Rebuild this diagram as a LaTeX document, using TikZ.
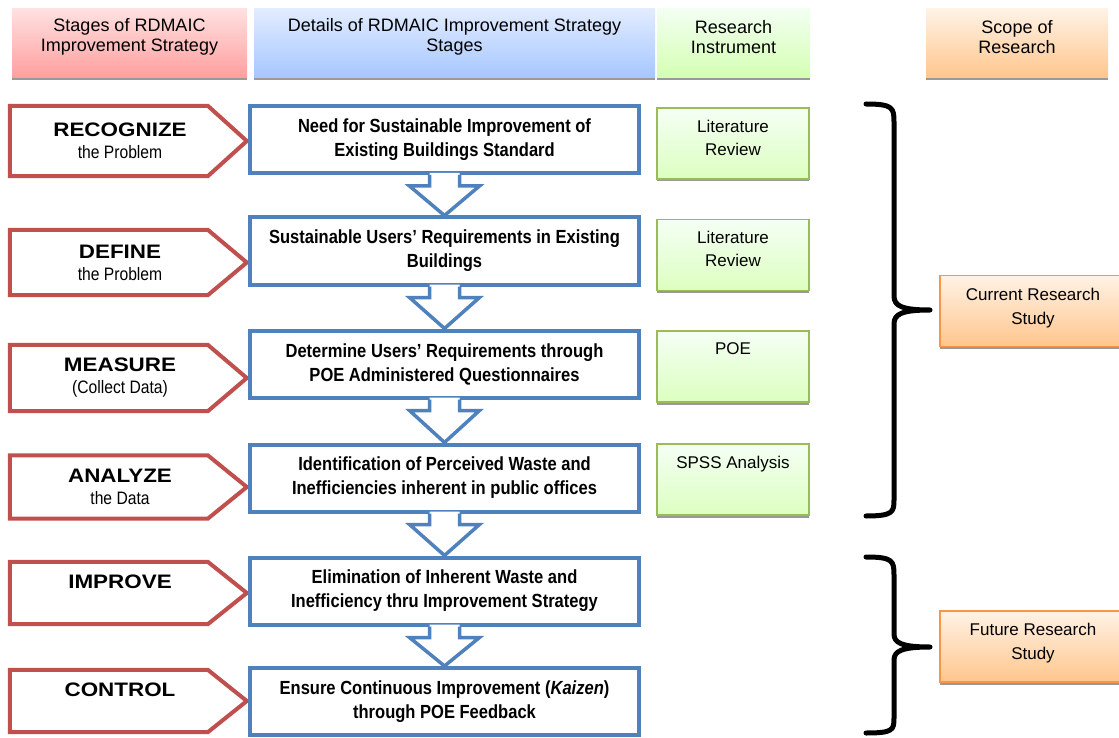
\documentclass[tikz,border=0pt]{standalone}
\usepackage{fontspec}
\setmainfont{Liberation Sans}
\newfontfamily\narrowfont[FakeStretch=0.87]{Liberation Sans}
\newfontfamily\widefont[FakeStretch=1.15]{Liberation Sans}
\usetikzlibrary{calc, shadows}

\definecolor{stagered}{HTML}{C0504D}
\definecolor{detailblue}{HTML}{4F81BD}
\definecolor{toolgreen}{HTML}{9BBB59}
\definecolor{scopeorange}{HTML}{F79646}
\definecolor{headblue top}{HTML}{E2ECFF}
\definecolor{headblue bottom}{HTML}{A6C6FF}

\newcommand{\stagename}[1]{{\widefont\bfseries\fontsize{19.5}{22}\selectfont #1}}

\begin{document}
\begin{tikzpicture}[x = 1pt, y = -1pt,
  shade under/.style = {drop shadow = {shadow xshift = 0pt, shadow yshift = -2.5pt,
                                      fill = black!40, opacity = 1}},
  header/.style   = {shade under, minimum height = 69, inner sep = 0},
  headtext/.style = {yshift = 6.5, align = center, font = \fontsize{18}{20}\selectfont},
  stage/.style    = {minimum width = 220, minimum height = 66, inner sep = 0, align = center,
                     font = \narrowfont\fontsize{18}{22}\selectfont},
  stageline/.style = {draw = stagered, line width = 4},
  detail/.style   = {draw = detailblue, line width = 4, fill = white, minimum width = 389,
                     minimum height = 67, inner sep = 0, align = center,
                     font = \narrowfont\bfseries\fontsize{19}{24}\selectfont},
  flow/.style     = {draw = detailblue, line width = 3.5},
  tool/.style     = {draw = toolgreen, line width = 1.5, top color = green!4!white,
                     bottom color = green!55!yellow!25!white, shade under,
                     minimum width = 152, minimum height = 71, inner sep = 0},
  tooltext/.style = {yshift = 6, align = center, font = \fontsize{17}{23}\selectfont},
  scope/.style    = {draw = scopeorange, line width = 1.5, top color = orange!10!white,
                     bottom color = orange!45!white, shade under,
                     minimum width = 186, minimum height = 71, inner sep = 0},
  scopetext/.style = {yshift = 3, align = center, font = \fontsize{17}{24}\selectfont},
  brace/.style    = {line width = 5, line cap = round, line join = round}]

  \useasboundingbox (0, 0) rectangle (1119, 738);

  % column headers
  \node[header, minimum width = 235, top color = red!12!white, bottom color = red!38!white,
        label = {[headtext]center:Stages of RDMAIC\\Improvement Strategy}] (h1) at (129.5, 43.5) {};
  \node[header, minimum width = 401, top color = headblue top, bottom color = headblue bottom,
        label = {[headtext]center:Details of RDMAIC Improvement Strategy\\Stages}] (h2) at (454.5, 43.5) {};
  \node[header, minimum width = 153, top color = green!5!white, bottom color = green!55!yellow!30!white,
        label = {[headtext]center:Research\\Instrument}] (h3) at (733.5, 43.5) {};
  \node[header, minimum width = 182, top color = orange!10!white, bottom color = orange!45!white,
        label = {[headtext]center:Scope of\\Research}] (h4) at (1017, 43.5) {};

  % stages
  \node[stage, minimum height = 70] (s1) at (120, 141)   {\stagename{RECOGNIZE}\\the Problem};
  \node[stage, minimum height = 65] (s2) at (120, 262.5) {\stagename{DEFINE}\\the Problem};
  \node[stage]                      (s3) at (120, 378)   {\stagename{MEASURE}\\(Collect Data)};
  \node[stage, minimum height = 63] (s4) at (120, 487)   {\stagename{ANALYZE}\\the Data};
  \node[stage, minimum height = 62] (s5) at (120, 593)   {\stagename{IMPROVE}\\\phantom{the Data}};
  \node[stage, minimum height = 62] (s6) at (120, 701)   {\stagename{CONTROL}\\\phantom{the Data}};
  \foreach \s in {s1, s2, s3, s4, s5, s6}
    \draw[stageline] (\s.north west) -- ($(\s.north west) + (198, 0)$) -- ($(\s.west) + (237, 0)$)
                  -- ($(\s.south west) + (198, 0)$) -- (\s.south west) -- cycle;

  % details
  \node[detail] (b1) at (444.5, 139.5) {Need for Sustainable Improvement of\\Existing Buildings Standard};
  \node[detail] (b2) at (444.5, 251)   {Sustainable Users’ Requirements in Existing\\Buildings};
  \node[detail] (b3) at (444.5, 364)   {Determine Users’ Requirements through\\POE Administered Questionnaires};
  \node[detail] (b4) at (444.5, 478)   {Identification of Perceived Waste and\\Inefficiencies inherent in public offices};
  \node[detail] (b5) at (444.5, 591)   {Elimination of Inherent Waste and\\Inefficiency thru Improvement Strategy};
  \node[detail] (b6) at (444.5, 701.5) {Ensure Continuous Improvement (\textit{Kaizen})\\through POE Feedback};
  \foreach \a/\b in {b1/b2, b2/b3, b3/b4, b4/b5, b5/b6} {
    \fill[white] ($(\a.south) + (-15, -2)$) -- ($(\a.south) + (-15, 11)$) -- ($(\a.south) + (-35, 11)$)
              -- (\b.north) -- ($(\a.south) + (35, 11)$) -- ($(\a.south) + (15, 11)$)
              -- ($(\a.south) + (15, -2)$) -- cycle;
    \draw[flow] ($(\a.south) + (-15, 0)$) -- ($(\a.south) + (-15, 11)$) -- ($(\a.south) + (-35, 11)$)
             -- (\b.north) -- ($(\a.south) + (35, 11)$) -- ($(\a.south) + (15, 11)$)
             -- ($(\a.south) + (15, 0)$);
  }

  % research instruments
  \node[tool, label = {[tooltext]center:Literature\\Review}] (t1) at (733, 143.5) {};
  \node[tool, label = {[tooltext]center:Literature\\Review}] (t2) at (733, 255) {};
  \node[tool, label = {[tooltext]center:POE\\\phantom{Review}}] (t3) at (733, 366.5) {};
  \node[tool, label = {[tooltext]center:SPSS Analysis\\\phantom{Review}}] (t4) at (733, 479.5) {};

  % scope
  \node[scope, label = {[scopetext]center:Current Research\\Study}] (c1) at (1033, 311) {};
  \node[scope, label = {[scopetext]center:Future Research\\Study}]  (c2) at (1033, 646.5) {};
  \draw[brace] (866, 104) .. controls (893, 104) and (894, 108) .. (894, 122)
            -- (894, 296) .. controls (894, 306) and (902, 310) .. (930, 310)
               .. controls (902, 310) and (894, 314) .. (894, 324)
            -- (894, 500) .. controls (894, 512) and (893, 516) .. (866, 516);
  \draw[brace] (866, 557) .. controls (893, 557) and (894, 561) .. (894, 575)
            -- (894, 634) .. controls (894, 643) and (902, 647) .. (930, 647)
               .. controls (902, 647) and (894, 651) .. (894, 660)
            -- (894, 718) .. controls (894, 730) and (893, 733) .. (866, 733);
\end{tikzpicture}
\end{document}
